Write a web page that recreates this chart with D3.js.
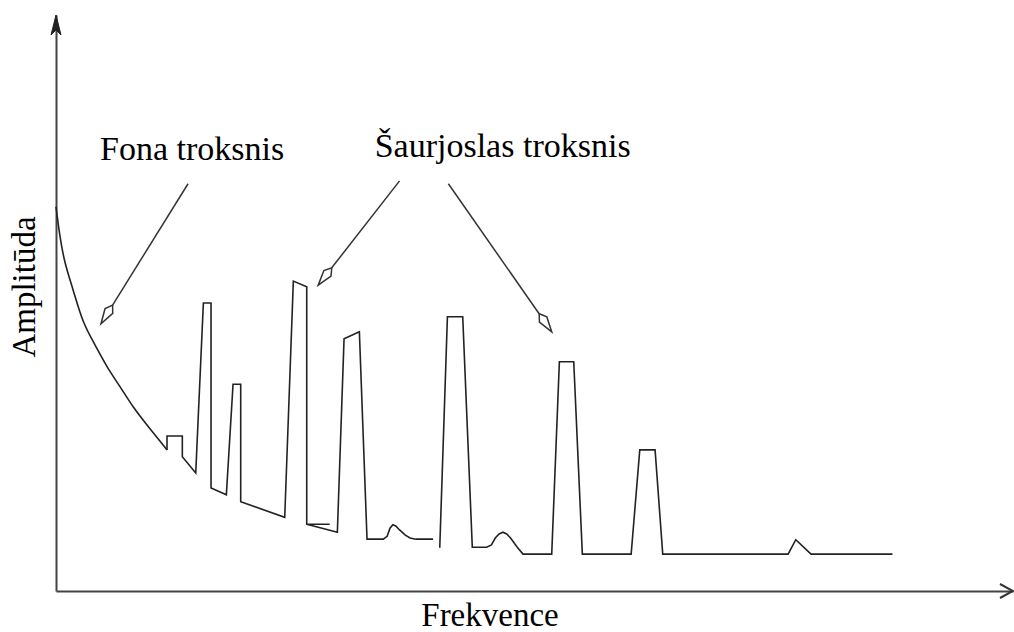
<!DOCTYPE html>
<html>
<head>
<meta charset="utf-8">
<script src="https://cdn.jsdelivr.net/npm/d3@7"></script>
<style>
  html, body { margin: 0; padding: 0; background: #fff; }
  svg text { font-family: "Liberation Serif", "Times New Roman", serif; fill: #000; }
</style>
</head>
<body>
<svg id="chart" width="1014" height="632"></svg>
<script>
// ---- data (frequency, amplitude in arbitrary units 0..100) ----
const backgroundFreq = [0, 0.4, 0.9, 1.8, 2.8, 4.1, 5.3, 6.7, 8.0, 9.8, 11.6];
const backgroundAmp  = [66.7, 61.5, 56.9, 52.3, 46.5, 42.7, 38.9, 35.5, 32.0, 28.2, 24.5];

const spectrumAFreq = [11.6, 11.6, 13.2, 13.2, 14.6, 15.4, 16.2, 16.2, 17.8, 18.5, 19.3, 19.3, 23.9, 24.8, 26.2, 26.2, 28.6, 26.2, 29.4, 30.1, 31.7, 32.5, 34.2, 34.6, 34.9, 35.2, 35.5, 35.9, 36.5, 37.0, 37.6, 39.4];
const spectrumAAmp  = [24.5, 26.9, 26.9, 23.3, 20.5, 50.0, 50.0, 17.9, 16.7, 35.9, 35.9, 15.5, 12.8, 53.8, 52.8, 11.6, 11.6, 11.6, 10.2, 43.8, 45.0, 9.0, 9.0, 9.5, 10.9, 11.5, 11.3, 10.6, 9.7, 9.2, 9.0, 9.0];

const spectrumBFreq = [40.1, 40.9, 42.5, 43.5, 45.0, 45.5, 45.9, 46.3, 46.7, 47.1, 47.5, 48.2, 48.8, 51.8, 52.6, 54.1, 55.0, 60.1, 61.0, 62.6, 63.4, 76.5, 77.3, 78.9, 87.4];
const spectrumBAmp  = [7.5, 47.6, 47.6, 7.6, 7.6, 8.0, 9.2, 9.9, 10.2, 9.9, 9.2, 7.6, 6.4, 6.4, 39.8, 39.8, 6.4, 6.4, 24.5, 24.5, 6.4, 6.4, 8.9, 6.4, 6.4];

// annotation labels and their pointer arrows (from -> to)
const labelTexts = ["Fona troksnis", "Šaurjoslas troksnis"];
const labelFreq  = [4.6, 33.3];
const labelAmp   = [74.8, 75.3];
const arrowFromFreq = [13.8, 35.9, 41.0];
const arrowFromAmp  = [70.7, 71.2, 70.7];
const arrowToFreq   = [4.7, 27.4, 51.8];
const arrowToAmp    = [46.4, 53.1, 45.0];

const xTitle = "Frekvence";
const yTitle = "Amplitūda";

// ---- drawing ----
const svg = d3.select("#chart");
const x = d3.scaleLinear().domain([0, 100]).range([56, 1013]);
const y = d3.scaleLinear().domain([0, 100]).range([591, 15]);

const lineColor = "#222";

// axes (no ticks)
svg.append("g").attr("transform", `translate(0,${y(0)})`)
  .call(d3.axisBottom(x).ticks(0).tickSizeOuter(0));
svg.append("g").attr("transform", `translate(${x(0)},0)`)
  .call(d3.axisLeft(y).ticks(0).tickSizeOuter(0));
svg.selectAll(".domain").attr("stroke", "#444").attr("stroke-width", 2);

// axis arrowheads
const xe = x(100), ye = y(0);
svg.append("path")
  .attr("d", `M${xe - 13},${ye - 7}L${xe},${ye}L${xe - 13},${ye + 7}`)
  .attr("fill", "none").attr("stroke", "#333").attr("stroke-width", 2);
const yx = x(0), yt = y(100);
svg.append("path")
  .attr("d", `M${yx},${yt}L${yx + 5},${yt + 20}L${yx},${yt + 15}L${yx - 5},${yt + 20}Z`)
  .attr("fill", "#222").attr("stroke", "#222").attr("stroke-width", 1);

// spectrum
const zip = (fs, as) => fs.map((f, i) => [f, as[i]]);
const lineLinear = d3.line().x(d => x(d[0])).y(d => y(d[1]));
const lineSmooth = d3.line().x(d => x(d[0])).y(d => y(d[1])).curve(d3.curveBasis);

svg.append("path").datum(zip(backgroundFreq, backgroundAmp))
  .attr("d", lineSmooth).attr("fill", "none").attr("stroke", lineColor).attr("stroke-width", 1.6);
[zip(spectrumAFreq, spectrumAAmp), zip(spectrumBFreq, spectrumBAmp)].forEach(seg => {
  svg.append("path").datum(seg)
    .attr("d", lineLinear).attr("fill", "none").attr("stroke", lineColor)
    .attr("stroke-width", 1.6).attr("stroke-linejoin", "miter");
});

// annotation arrows with open kite heads
arrowFromFreq.forEach((f, i) => {
  const x1 = x(f), y1 = y(arrowFromAmp[i]);
  const x2 = x(arrowToFreq[i]), y2 = y(arrowToAmp[i]);
  const dx = x2 - x1, dy = y2 - y1, L = Math.hypot(dx, dy);
  const ux = dx / L, uy = dy / L, nx = -uy, ny = ux;
  const back = 22, wide = 15, hw = 4.5;
  const bx = x2 - ux * back, by = y2 - uy * back;
  const wx = x2 - ux * wide, wy = y2 - uy * wide;
  svg.append("line")
    .attr("x1", x1).attr("y1", y1).attr("x2", bx).attr("y2", by)
    .attr("stroke", "#333").attr("stroke-width", 1.5);
  svg.append("path")
    .attr("d", `M${x2},${y2}L${wx + nx * hw},${wy + ny * hw}L${bx},${by}L${wx - nx * hw},${wy - ny * hw}Z`)
    .attr("fill", "#fff").attr("stroke", "#333").attr("stroke-width", 1.5);
});

// labels
labelTexts.forEach((t, i) => {
  svg.append("text").attr("x", x(labelFreq[i])).attr("y", y(labelAmp[i]))
    .attr("font-size", 34).text(t);
});

// axis titles
svg.append("text").attr("x", 490).attr("y", 626)
  .attr("text-anchor", "middle").attr("font-size", 33).text(xTitle);
svg.append("text")
  .attr("transform", `translate(35,${287}) rotate(-90)`)
  .attr("text-anchor", "middle").attr("font-size", 33).text(yTitle);
</script>
</body>
</html>
